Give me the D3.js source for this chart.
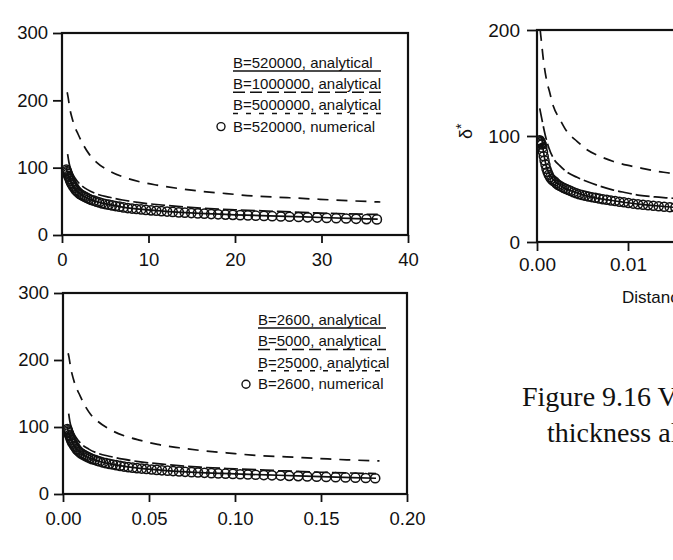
<!DOCTYPE html>
<html>
<head>
<meta charset="utf-8">
<script src="https://cdn.jsdelivr.net/npm/d3@7"></script>
<style>
  body { margin: 0; background: #fff; }
  svg { display: block; }
</style>
</head>
<body>
<div id="chart"></div>
<script>
// ---- top-left panel: B=520000 family, distance 0..40
const topSolidX = [0.5, 0.6, 0.8, 1.0, 1.3, 1.7, 2.2, 3, 4, 5.5, 7, 9, 12, 16, 20, 25, 30, 36.5];
const topSolidY = [100, 94, 86, 80, 72, 66, 60, 54, 49.5, 45, 41.5, 38.3, 35, 32, 30, 28, 26, 23.5];
const topLongX = [0.65, 0.8, 1.0, 1.3, 1.7, 2.2, 3, 4, 5.5, 7, 9, 12, 16, 20, 25, 30, 36.5];
const topLongY = [120, 108, 98, 89, 81, 74, 67, 61, 56, 52, 48, 44, 40, 37.5, 35, 32.5, 30.5];
const topShortX = [0.6, 0.7, 0.9, 1.2, 1.5, 1.85, 2.5, 3.2, 4, 5.5, 7.1, 9, 11, 13.5, 16, 19, 22, 26, 29.8, 33, 36.8];
const topShortY = [212, 205, 188, 172, 160, 150, 133, 119, 108, 95, 86, 79, 74, 69, 65, 61.5, 58, 55.5, 53, 51, 49];
const topDotX = [0.5, 0.55, 0.6, 0.66, 0.72, 0.8, 0.88, 0.97, 1.07, 1.18, 1.3, 1.43, 1.57, 1.72, 1.88,
  2.05, 2.25, 2.45, 2.67, 2.9, 3.15, 3.4, 3.7, 4.0, 4.3, 4.65, 5.0, 5.4, 5.8, 6.2, 6.65, 7.1, 7.6,
  8.1, 8.6, 9.15, 9.7, 10.3, 10.9, 11.5, 12.15, 12.8, 13.5, 14.2, 14.95, 15.7, 16.45, 17.25, 18.05,
  18.9, 19.75, 20.6, 21.5, 22.4, 23.35, 24.3, 25.3, 26.3, 27.35, 28.4, 29.5, 30.6, 31.7, 32.85, 34.0, 35.2, 36.4];
const topDotY = [97, 95, 93, 91, 88, 86, 83, 80, 77, 75, 72, 70, 67, 65, 63,
  61, 59.5, 58, 56.5, 55, 53.5, 52, 51, 49.5, 48.5, 47, 46, 45, 44, 43, 42, 41, 40,
  39.3, 38.6, 38, 37.3, 36.6, 36, 35.4, 34.8, 34.2, 33.6, 33.1, 32.6, 32.1, 31.6, 31.1, 30.7,
  30.3, 29.9, 29.5, 29.1, 28.7, 28.3, 27.9, 27.5, 27.1, 26.7, 26.3, 25.9, 25.4, 25, 24.5, 24, 23.6, 23.2];

// ---- bottom-left panel: B=2600 family, distance 0..0.2
const botSolidX = [0.0025, 0.003, 0.004, 0.005, 0.0065, 0.0085, 0.011, 0.015, 0.02, 0.0275, 0.035, 0.045, 0.06, 0.08, 0.1, 0.125, 0.15, 0.182];
const botSolidY = [100, 94, 86, 80, 72, 66, 60, 54, 49.5, 45, 41.5, 38.3, 35, 32, 30, 28, 26, 23.5];
const botLongX = [0.0033, 0.004, 0.005, 0.0065, 0.0085, 0.011, 0.015, 0.02, 0.0275, 0.035, 0.045, 0.06, 0.08, 0.1, 0.125, 0.15, 0.182];
const botLongY = [120, 108, 98, 89, 81, 74, 67, 61, 56, 52, 48, 44, 40, 37.5, 35, 32.5, 30.5];
const botShortX = [0.003, 0.0035, 0.0045, 0.006, 0.0075, 0.0093, 0.0125, 0.016, 0.02, 0.0275, 0.0355, 0.045, 0.055, 0.0675, 0.08, 0.095, 0.11, 0.13, 0.149, 0.165, 0.184];
const botShortY = [210, 204, 188, 172, 160, 150, 133, 119, 109, 96, 87, 80, 74, 69, 65, 61.5, 58, 55.5, 53, 51, 49.5];
const botDotX = [0.0025, 0.00275, 0.003, 0.0033, 0.0036, 0.004, 0.0044, 0.00485, 0.00535, 0.0059, 0.0065,
  0.00715, 0.00785, 0.0086, 0.0094, 0.01025, 0.01125, 0.01225, 0.01335, 0.0145, 0.01575, 0.017, 0.0185,
  0.02, 0.0215, 0.02325, 0.025, 0.027, 0.029, 0.031, 0.03325, 0.0355, 0.038, 0.0405, 0.043, 0.04575,
  0.0485, 0.0515, 0.0545, 0.0575, 0.06075, 0.064, 0.0675, 0.071, 0.07475, 0.0785, 0.08225, 0.08625,
  0.09025, 0.0945, 0.09875, 0.103, 0.1075, 0.112, 0.11675, 0.1215, 0.1265, 0.1315, 0.13675, 0.142,
  0.1475, 0.153, 0.1585, 0.16425, 0.17, 0.176, 0.1815];
const botDotY = [97, 95, 93, 91, 88, 86, 83, 80, 77, 75, 72, 70, 67, 65, 63,
  61, 59.5, 58, 56.5, 55, 53.5, 52, 51, 49.5, 48.5, 47, 46, 45, 44, 43, 42, 41, 40,
  39.3, 38.6, 38, 37.3, 36.6, 36, 35.4, 34.8, 34.2, 33.6, 33.1, 32.6, 32.1, 31.6, 31.1, 30.7,
  30.3, 29.9, 29.5, 29.1, 28.7, 28.3, 27.9, 27.5, 27.1, 26.7, 26.3, 25.9, 25.5, 25.1, 24.7, 24.3, 23.9, 23.5];

// ---- right panel (cut off by the page edge)
const rightSolidX = [0.0005, 0.0007, 0.001, 0.0015, 0.002, 0.003, 0.004, 0.005, 0.0065, 0.008, 0.01, 0.012, 0.014, 0.016];
const rightSolidY = [100, 86, 72, 62, 57, 51, 47.5, 44.5, 41.5, 39.5, 37, 35, 33.5, 32];
const rightLongX = [0.0003, 0.0006, 0.0009, 0.0013, 0.0018, 0.0025, 0.0033, 0.0044, 0.0055, 0.007, 0.0084, 0.0098, 0.0113, 0.013, 0.0146, 0.016];
const rightLongY = [126, 113, 101, 89, 79, 72, 66, 61, 57, 52.5, 49, 46.5, 44, 42.5, 41.5, 40.5];
const rightShortX = [0.00035, 0.0005, 0.0007, 0.001, 0.0014, 0.0018, 0.0025, 0.0033, 0.0044, 0.0055, 0.007, 0.0084, 0.0099, 0.0113, 0.013, 0.0146, 0.016];
const rightShortY = [200, 188, 172, 155, 141, 128, 116, 104, 95, 87, 80.5, 76, 72.5, 70, 67, 65, 63];
const rightDotX = [0.0003, 0.00035, 0.0004, 0.00046, 0.00052, 0.00059, 0.00066, 0.00074, 0.00083, 0.00093,
  0.00104, 0.00116, 0.00129, 0.00143, 0.00158, 0.00174, 0.00192, 0.0021, 0.0023, 0.0025, 0.00272,
  0.00295, 0.0032, 0.00346, 0.00373, 0.00402, 0.00432, 0.00463, 0.00496, 0.0053, 0.00566, 0.00603,
  0.00642, 0.00682, 0.00724, 0.00767, 0.00812, 0.00858, 0.00906, 0.00955, 0.01005, 0.01057, 0.0111,
  0.01165, 0.01221, 0.01278, 0.01337, 0.01397, 0.01458, 0.0152, 0.0158];
const rightDotY = [96, 95, 94, 93, 92, 89, 85, 81, 77, 73, 69, 66, 63.5, 61, 59.5, 58, 57, 55.5, 54, 53, 52,
  51, 50, 49, 48, 47, 46, 45, 44.3, 43.6, 43, 42.3, 41.7, 41, 40.4, 39.8, 39.2, 38.6, 38, 37.4, 36.8,
  36.2, 35.6, 35.1, 34.6, 34.1, 33.7, 33.3, 32.9, 32.5, 32.1];

// ---- labels and ticks
const topLegend = ["B=520000, analytical", "B=1000000, analytical", "B=5000000, analytical", "B=520000, numerical"];
const botLegend = ["B=2600, analytical", "B=5000, analytical", "B=25000, analytical", "B=2600, numerical"];
const leftYTicks = [0, 100, 200, 300];
const topXTicks = [0, 10, 20, 30, 40];
const botXTicks = [0, 0.05, 0.10, 0.15, 0.20];
const rightYTicks = [0, 100, 200];
const rightXTicks = [0, 0.01];
const captionLines = ["Figure 9.16 Variation of displacement", "thickness along the plate"];
const rightXLabel = "Distance (m)";

const sans = "'Liberation Sans', Arial, sans-serif";
const longDash = "14,4", shortDash = "11,8";
const legendDash = [null, "12,5", "5,8"];

const svg = d3.select("#chart").append("svg")
  .attr("width", 673).attr("height", 560);

function drawPanel(p) {
  const x = d3.scaleLinear().domain(p.xDomain).range(p.xRange);
  const y = d3.scaleLinear().domain(p.yDomain).range(p.yRange);
  const g = svg.append("g");

  const clipId = "clip" + p.id;
  g.append("clipPath").attr("id", clipId).append("rect")
    .attr("x", p.xRange[0]).attr("y", p.yRange[1])
    .attr("width", p.xRange[1] - p.xRange[0]).attr("height", p.yRange[0] - p.yRange[1]);

  const plot = g.append("g").attr("clip-path", `url(#${clipId})`);
  const line = d3.line().x(d => x(d[0])).y(d => y(d[1])).curve(d3.curveMonotoneX);

  p.curves.forEach(c => {
    plot.append("path")
      .datum(d3.zip(c.x, c.y))
      .attr("d", line)
      .attr("fill", "none")
      .attr("stroke", "#111")
      .attr("stroke-width", 1.7)
      .attr("stroke-dasharray", c.dash);
  });

  plot.selectAll("circle.dot")
    .data(d3.zip(p.dotX, p.dotY))
    .enter().append("circle")
    .attr("class", "dot")
    .attr("cx", d => x(d[0]))
    .attr("cy", d => y(d[1]))
    .attr("r", p.r)
    .attr("fill", "none")
    .attr("stroke", "#111")
    .attr("stroke-width", 1.5);

  // axes
  const yAxis = g.append("g")
    .attr("transform", `translate(${p.xRange[0]},0)`)
    .call(d3.axisLeft(y).tickValues(p.yTicks).tickFormat(d3.format("d"))
      .tickSize(p.yTickSize).tickPadding(p.yPad).tickSizeOuter(0));
  const xAxis = g.append("g")
    .attr("transform", `translate(0,${p.yRange[0]})`)
    .call(d3.axisBottom(x).tickValues(p.xTicks).tickFormat(p.xFormat)
      .tickSize(p.xTickSize).tickPadding(p.xPad).tickSizeOuter(0));
  [yAxis, xAxis].forEach(a => {
    a.select(".domain").remove();
    a.selectAll(".tick line").attr("stroke", "#111").attr("stroke-width", 1.8);
    a.selectAll(".tick text")
      .attr("fill", "#111")
      .style("font-family", sans)
      .style("font-size", p.fontSize + "px");
  });

  // frame
  g.append("rect")
    .attr("x", p.xRange[0]).attr("y", p.yRange[1])
    .attr("width", p.xRange[1] - p.xRange[0]).attr("height", p.yRange[0] - p.yRange[1])
    .attr("fill", "none").attr("stroke", "#111").attr("stroke-width", 2.2);

  // legend
  if (p.legend) {
    const L = p.legend;
    L.labels.forEach((label, i) => {
      const by = L.y0 + i * L.step;
      g.append("text")
        .attr("x", L.x).attr("y", by)
        .attr("fill", "#111")
        .style("font-family", sans)
        .style("font-size", "15px")
        .text(label);
      if (i < 3) {
        g.append("line")
          .attr("x1", L.x).attr("x2", L.end)
          .attr("y1", by + 3).attr("y2", by + 3)
          .attr("stroke", "#111").attr("stroke-width", 1.5)
          .attr("stroke-dasharray", legendDash[i]);
      } else {
        g.append("circle")
          .attr("cx", L.x - 12).attr("cy", by - 5)
          .attr("r", 4).attr("fill", "none")
          .attr("stroke", "#111").attr("stroke-width", 1.4);
      }
    });
  }
}

drawPanel({
  id: "top", xDomain: [0, 40], xRange: [62, 408], yDomain: [0, 300], yRange: [235, 33],
  yTicks: leftYTicks, xTicks: topXTicks, xFormat: d3.format("d"),
  yTickSize: 9, yPad: 5, xTickSize: 8, xPad: 10, fontSize: 18.5, r: 4.6,
  curves: [
    { x: topSolidX, y: topSolidY, dash: null },
    { x: topLongX, y: topLongY, dash: longDash },
    { x: topShortX, y: topShortY, dash: shortDash }
  ],
  dotX: topDotX, dotY: topDotY,
  legend: { labels: topLegend, x: 233, y0: 68, step: 21.2, end: 381 }
});

drawPanel({
  id: "bot", xDomain: [0, 0.2], xRange: [63, 407], yDomain: [0, 300], yRange: [494, 293],
  yTicks: leftYTicks, xTicks: botXTicks, xFormat: d3.format(".2f"),
  yTickSize: 9, yPad: 5, xTickSize: 8, xPad: 10, fontSize: 18.5, r: 4.6,
  curves: [
    { x: botSolidX, y: botSolidY, dash: null },
    { x: botLongX, y: botLongY, dash: longDash },
    { x: botShortX, y: botShortY, dash: shortDash }
  ],
  dotX: botDotX, dotY: botDotY,
  legend: { labels: botLegend, x: 258, y0: 325, step: 21.4, end: 386 }
});

drawPanel({
  id: "right", xDomain: [0, 0.05], xRange: [537, 992], yDomain: [0, 200], yRange: [242, 30],
  yTicks: rightYTicks, xTicks: rightXTicks, xFormat: d3.format(".2f"),
  yTickSize: 10, yPad: 7, xTickSize: 9, xPad: 7, fontSize: 19, r: 4.5,
  curves: [
    { x: rightSolidX, y: rightSolidY, dash: null },
    { x: rightLongX, y: rightLongY, dash: longDash },
    { x: rightShortX, y: rightShortY, dash: shortDash }
  ],
  dotX: rightDotX, dotY: rightDotY
});

// y label of right panel: delta*
const yl = svg.append("text")
  .attr("transform", "translate(472,139) rotate(-90)")
  .attr("fill", "#111")
  .style("font-family", sans)
  .style("font-size", "18px");
yl.append("tspan").text("δ");
yl.append("tspan").attr("dy", "-0.45em").style("font-size", "14px").text("*");

svg.append("text")
  .attr("x", 622).attr("y", 303)
  .attr("fill", "#111")
  .style("font-family", sans)
  .style("font-size", "17px")
  .text(rightXLabel);

// caption
svg.selectAll("text.caption")
  .data(captionLines)
  .enter().append("text")
  .attr("class", "caption")
  .attr("x", (d, i) => i === 0 ? 522 : 547)
  .attr("y", (d, i) => 406 + i * 36)
  .attr("fill", "#111")
  .style("font-family", "'Liberation Serif', 'Times New Roman', serif")
  .style("font-size", "28px")
  .text(d => d);
</script>
</body>
</html>
